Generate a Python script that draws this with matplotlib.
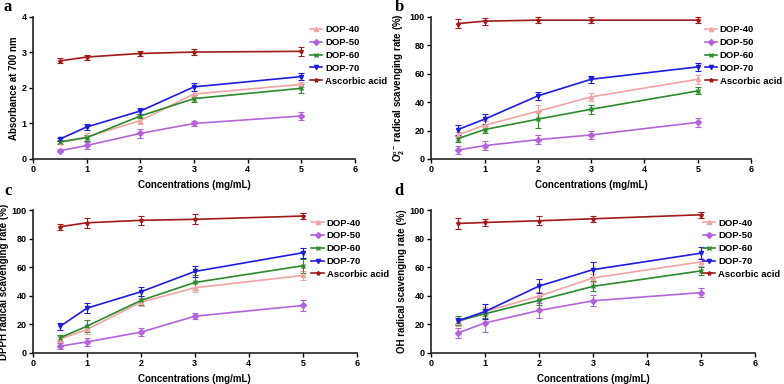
import numpy as np
import matplotlib
matplotlib.use("Agg")
import matplotlib.pyplot as plt
from matplotlib.lines import Line2D

plt.rcParams['font.family'] = ['Liberation Sans', 'DejaVu Sans']
plt.rcParams['font.weight'] = 'bold'
plt.rcParams['mathtext.default'] = 'regular'

conc = [0.5, 1, 2, 3, 5]
series = ['DOP-40', 'DOP-50', 'DOP-60', 'DOP-70', 'Ascorbic acid']
colors = ['#f4a3a3', '#b563d9', '#2b8a2b', '#1c1ce0', '#a01a1a']
markers = ['^', 'D', 'x', 'v', '*']

# panel a: reducing power
a_mean = [[0.47, 0.62, 1.08, 1.83, 2.10],
          [0.23, 0.38, 0.72, 1.00, 1.21],
          [0.48, 0.60, 1.21, 1.70, 1.99],
          [0.56, 0.90, 1.35, 2.03, 2.32],
          [2.76, 2.87, 2.97, 3.01, 3.03]]
a_err = [[0.05, 0.10, 0.10, 0.08, 0.08],
         [0.04, 0.10, 0.12, 0.08, 0.10],
         [0.05, 0.08, 0.07, 0.10, 0.13],
         [0.04, 0.09, 0.08, 0.11, 0.10],
         [0.07, 0.07, 0.08, 0.08, 0.12]]

# panel b: superoxide
b_mean = [[17.0, 23.7, 33.6, 43.7, 56.1],
          [6.3, 9.4, 13.6, 16.9, 25.8],
          [14.3, 20.7, 28.0, 35.0, 47.9],
          [20.7, 28.0, 44.4, 56.1, 64.8],
          [95.3, 97.0, 97.7, 97.7, 97.7]]
b_err = [[2, 3, 4.5, 3, 3],
         [2.5, 3, 3, 3, 3],
         [2, 2.5, 6, 3, 2.5],
         [3.5, 3.5, 3, 2.5, 3],
         [3, 2.5, 2, 2, 2]]

# panel c: DPPH
c_mean = [[9.6, 16.4, 35.5, 45.6, 54.2],
          [4.7, 7.7, 14.5, 25.7, 33.2],
          [10.5, 18.7, 36.7, 49.3, 61.0],
          [18.5, 31.3, 42.8, 57.0, 70.1],
          [88.3, 91.1, 92.8, 93.5, 95.8]]
c_err = [[2, 3, 3, 3, 3],
         [2, 3, 3, 2, 4],
         [2, 4, 3, 5, 5],
         [2.5, 3.5, 3, 4, 3.5],
         [2, 3.5, 3, 3.5, 2]]

# panel d: hydroxyl
d_mean = [[21.5, 29.0, 39.8, 52.5, 63.7],
          [14.0, 21.0, 29.7, 36.5, 42.2],
          [22.5, 27.4, 36.8, 46.6, 57.4],
          [22.5, 29.0, 46.8, 58.3, 69.8],
          [90.6, 91.3, 92.5, 93.9, 96.7]]
d_err = [[3, 3, 3, 3, 3],
         [3.5, 6.5, 5.5, 4, 3],
         [3, 3, 3, 3.5, 3],
         [2, 5, 5, 5, 4],
         [4, 2.5, 3, 2, 2]]

panels = [
    ('a', a_mean, a_err, 'Absorbance at 700 nm', 4, 1,
     [0.042, 0.586, 0.411, 0.370], (0.005, 0.982), 0.86),
    ('b', b_mean, b_err, r'O$_2^{\cdot-}$ radical scavenging rate (%)', 100, 20,
     [0.550, 0.586, 0.408, 0.370], (0.503, 0.982), 0.855),
    ('c', c_mean, c_err, 'DPPH radical scavenging rate (%)', 100, 20,
     [0.042, 0.081, 0.413, 0.372], (0.005, 0.502), 0.86),
    ('d', d_mean, d_err, 'OH radical scavenging rate (%)', 100, 20,
     [0.550, 0.081, 0.413, 0.372], (0.503, 0.502), 0.84),
]

fig = plt.figure(figsize=(7.84, 3.84), dpi=100)

for letter, means, errs, ylab, ymax, ystep, rect, lpos, legx in panels:
    ax = fig.add_axes(rect)
    for name, m, e, col, mk in zip(series, means, errs, colors, markers):
        ax.errorbar(conc, m, yerr=e, color=col, marker=mk, ms=3, lw=1.2,
                    elinewidth=0.8, capsize=2, capthick=0.8)
    ax.set_xlim(0, 6)
    ax.set_ylim(0, ymax)
    ax.set_xticks(range(7))
    ax.set_yticks(np.arange(0, ymax + ystep, ystep))
    for s in ['top', 'right']:
        ax.spines[s].set_visible(False)
    for s in ['left', 'bottom']:
        ax.spines[s].set_linewidth(1.2)
        ax.spines[s].set_color('#222222')
    ax.tick_params(direction='out', length=3, width=1.0, labelsize=6.5, pad=1.5)
    ax.set_xlabel('Concentrations (mg/mL)', fontsize=7, fontweight='bold', labelpad=4)
    ax.set_ylabel(ylab, fontsize=7, fontweight='bold', labelpad=2)
    handles = [Line2D([], [], color=c, marker=mk, ms=3, lw=1.2)
               for c, mk in zip(colors, markers)]
    ax.legend(handles, series, loc='upper left', bbox_to_anchor=(legx, 0.94),
              frameon=False, fontsize=6.8, handlelength=1.3, handletextpad=0.3,
              labelspacing=0.4, borderpad=0, borderaxespad=0)
    fig.text(lpos[0], lpos[1], letter, fontsize=12, fontweight='bold',
             family='Liberation Serif', va='center', ha='left')

fig.savefig('out.png', dpi=100)
